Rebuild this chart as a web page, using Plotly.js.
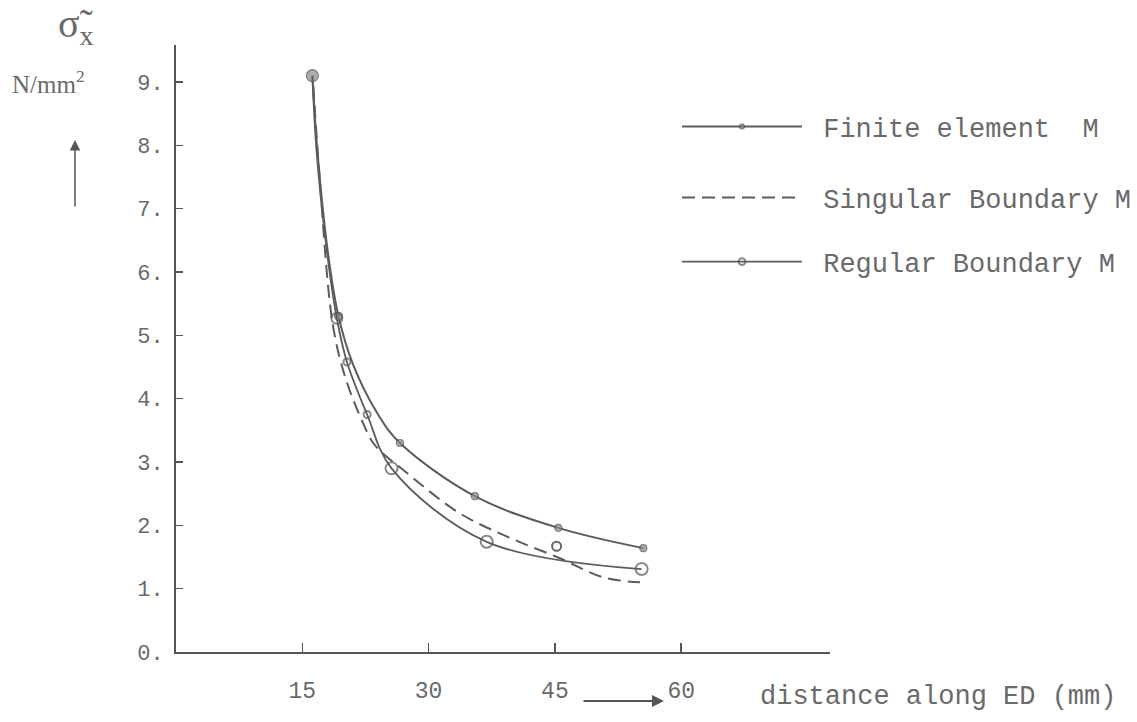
<!DOCTYPE html>
<html>
<head>
<meta charset="utf-8">
<script src="https://cdn.plot.ly/plotly-3.0.1.min.js"></script>
<style>html,body{margin:0;padding:0;background:#fff}#chart{width:1137px;height:722px}</style>
</head>
<body>
<div id="chart"></div>
<script>
// ---- data ----
const fe_x = [16.2, 16.8, 18.0, 19.3, 21.0, 24.0, 26.6, 35.5, 45.4, 55.5];
const fe_y = [9.1, 7.9, 6.35, 5.3, 4.55, 3.75, 3.30, 2.46, 1.96, 1.64];

const sing_x = [16.3, 17.0, 18.6, 20.1, 22.2, 23.6, 27.4, 33.7, 39.7, 45.6, 50.7, 55.1];
const sing_y = [8.95, 7.6, 5.19, 4.34, 3.62, 3.27, 2.83, 2.19, 1.80, 1.48, 1.18, 1.10];

const reg_x = [16.2, 16.7, 17.9, 19.1, 20.3, 22.7, 25.6, 36.9, 55.3];
const reg_y = [9.1, 7.9, 6.35, 5.27, 4.58, 3.75, 2.90, 1.74, 1.31];

const reg_extra_x = [45.2];
const reg_extra_y = [1.67];

const y_tickvals = [0, 1, 2, 3, 4, 5, 6, 7, 8, 9];
const y_ticktext = ['0.', '1.', '2.', '3.', '4.', '5.', '6.', '7.', '8.', '9.'];
const x_tickvals = [15, 30, 45, 60];
const x_ticktext = ['15', '30', '45', '60'];

const names = ['Finite element\u00a0\u00a0M', 'Singular Boundary M', 'Regular Boundary M'];

// ---- styles (kept separate from data) ----
const fe_msize = [12, 0, 0, 8, 0, 0, 7, 7, 7, 7];
const reg_msize = [0, 0, 0, 11, 7, 7, 12, 12, 12];
const INK = '#5c5c5c';
const TXT = '#6a6a6a';
const MONO = '"Liberation Mono", "DejaVu Sans Mono", monospace';
const SERIF = '"Liberation Serif", serif';

// layout helpers: pixel -> paper
const L = 176, R = 830, T = 45, B = 652;
const px = v => (v - L) / (R - L);
const py = v => (B - v) / (B - T);

const pad = '\u00a0';
const traces = [
  {
    x: fe_x, y: fe_y, name: pad + names[0], legend: 'legend', type: 'scatter',
    mode: 'lines+markers',
    line: {shape: 'spline', smoothing: 1, color: INK, width: 2},
    marker: {size: fe_msize, color: '#8a8a8a', line: {color: '#4a4a4a', width: 1.2}}
  },
  {
    x: sing_x, y: sing_y, name: pad + names[1], legend: 'legend2', type: 'scatter',
    mode: 'lines',
    line: {shape: 'spline', smoothing: 1, color: INK, width: 2, dash: '13px,7px'}
  },
  {
    x: reg_x, y: reg_y, name: pad + names[2], legend: 'legend3', type: 'scatter',
    mode: 'lines+markers',
    line: {shape: 'spline', smoothing: 1, color: INK, width: 1.8},
    marker: {symbol: 'circle-open', size: reg_msize, color: '#555', line: {width: 2}}
  },
  {
    x: reg_extra_x, y: reg_extra_y, type: 'scatter', mode: 'markers', showlegend: false,
    marker: {symbol: 'circle-open', size: 9, color: '#666', line: {width: 2}}
  }
];

const legendBase = {
  xanchor: 'left', yanchor: 'middle', itemwidth: 120, bgcolor: 'rgba(0,0,0,0)',
  borderwidth: 0, font: {family: MONO, size: 27, color: TXT}
};

const layout = {
  width: 1137, height: 722,
  margin: {l: L, r: 1137 - R, t: T, b: 722 - B, autoexpand: false},
  paper_bgcolor: '#fff', plot_bgcolor: '#fff',
  showlegend: true,
  legend: Object.assign({}, legendBase, {x: px(677), y: py(127)}),
  legend2: Object.assign({}, legendBase, {x: px(677), y: py(198)}),
  legend3: Object.assign({}, legendBase, {x: px(677), y: py(262)}),
  xaxis: {
    range: [0, (R - L) / 8.42], showgrid: false, zeroline: false,
    showline: true, linecolor: '#555', linewidth: 2,
    ticks: 'inside', ticklen: 9, tickwidth: 1.5, tickcolor: '#555',
    tickvals: x_tickvals, ticktext: x_ticktext, ticklabelstandoff: 16,
    tickfont: {family: MONO, size: 23, color: TXT}
  },
  yaxis: {
    range: [0, (B - T) / 63.33], showgrid: false, zeroline: false,
    showline: true, linecolor: '#555', linewidth: 2,
    ticks: 'inside', ticklen: 7, tickwidth: 1.5, tickcolor: '#555',
    tickvals: y_tickvals, ticktext: y_ticktext, ticklabelstandoff: 6,
    tickfont: {family: MONO, size: 22, color: TXT}
  },
  annotations: [
    {xref: 'paper', yref: 'paper', x: px(56), y: py(26), xanchor: 'left', yanchor: 'middle',
     text: 'σ̃<sub>x</sub>', showarrow: false, font: {family: SERIF, size: 40, color: TXT}},
    {xref: 'paper', yref: 'paper', x: px(48), y: py(82), xanchor: 'center', yanchor: 'middle',
     text: 'N/mm<sup>2</sup>', showarrow: false, font: {family: SERIF, size: 25, color: TXT}},
    {xref: 'paper', yref: 'paper', x: px(75), y: py(140), text: '', showarrow: true,
     ax: 0, ay: 68, arrowhead: 2, arrowsize: 1.4, arrowwidth: 1.5, arrowcolor: '#555'},
    {xref: 'paper', yref: 'paper', x: px(664), y: py(701), text: '', showarrow: true,
     ax: -82, ay: 0, arrowhead: 2, arrowsize: 1.2, arrowwidth: 2, arrowcolor: '#555'},
    {xref: 'paper', yref: 'paper', x: px(758), y: py(697), xanchor: 'left', yanchor: 'middle',
     text: 'distance along ED (mm)', showarrow: false,
     font: {family: MONO, size: 27, color: TXT}}
  ]
};

Plotly.newPlot('chart', traces, layout, {displayModeBar: false, staticPlot: true});
</script>
</body>
</html>
